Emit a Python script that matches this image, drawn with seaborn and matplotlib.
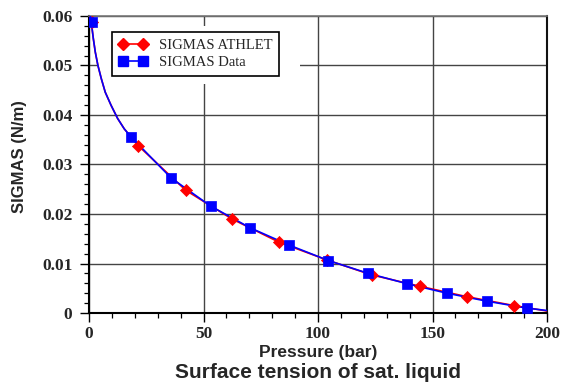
import matplotlib
matplotlib.use("Agg")
import matplotlib.pyplot as plt
import seaborn as sns
import pandas as pd
from matplotlib.lines import Line2D
from matplotlib.patches import Rectangle
from matplotlib.ticker import MultipleLocator

# ---- data ----
data_p = [1.2, 18.3, 35.8, 53.1, 70.4, 87.5, 104.5, 122.0, 139.0, 156.3, 173.6, 191.1]
data_s = [0.0587, 0.0356, 0.0273, 0.0216, 0.0172, 0.0137, 0.0106, 0.0080, 0.0059, 0.0040, 0.0024, 0.0010]

athlet_p = [1.4, 21.5, 42.2, 62.4, 83.0, 104.0, 123.4, 144.5, 165.0, 185.6]
athlet_s = [0.0588, 0.0338, 0.0248, 0.0190, 0.0143, 0.0107, 0.0077, 0.0054, 0.0033, 0.0015]

# steep start of the continuous curves
start_p = [0.6, 1.2, 1.9, 2.75, 3.9, 5.4, 7.1, 9.6, 12.5, 15.4]
start_s = [0.0600, 0.0580, 0.0554, 0.0527, 0.0500, 0.0473, 0.0446, 0.0420, 0.0393, 0.0372]
end_p = [200.0]
end_s_athlet = [0.0004]
end_s_data = [0.0005]

xticks = [0, 50, 100, 150, 200]
yticks = [0, 0.01, 0.02, 0.03, 0.04, 0.05, 0.06]
ytick_labels = ["0", "0.01", "0.02", "0.03", "0.04", "0.05", "0.06"]

# ---- frames ----
line_athlet = pd.DataFrame({"p": start_p + athlet_p[1:] + end_p,
                            "s": start_s + athlet_s[1:] + end_s_athlet})
line_data = pd.DataFrame({"p": start_p + data_p[1:] + end_p,
                          "s": start_s + data_s[1:] + end_s_data})
pts_athlet = pd.DataFrame({"p": athlet_p, "s": athlet_s})
pts_data = pd.DataFrame({"p": data_p, "s": data_s})

sns.set_style("white")
plt.rcParams["font.family"] = ["Liberation Sans", "DejaVu Sans"]

fig = plt.figure(figsize=(5.64, 3.87), dpi=100)
ax = fig.add_axes([89/564, 1-313/387, (547-89)/564, (313-16)/387])

RED = "#ff0000"
BLUE = "#0000ff"

sns.lineplot(data=line_athlet, x="p", y="s", ax=ax, color=RED, lw=1.2,
             sort=False, estimator=None, zorder=3, legend=False)
sns.lineplot(data=line_data, x="p", y="s", ax=ax, color=BLUE, lw=1.2,
             sort=False, estimator=None, zorder=4, legend=False)
sns.scatterplot(data=pts_athlet, x="p", y="s", ax=ax, color=RED, marker="D",
                s=38, edgecolor=RED, linewidth=0.5, zorder=5, legend=False)
sns.scatterplot(data=pts_data, x="p", y="s", ax=ax, color=BLUE, marker="s",
                s=62, edgecolor=BLUE, linewidth=0.5, zorder=6, legend=False)

ax.set_xlim(0, 200)
ax.set_ylim(0, 0.06)
ax.set_xticks(xticks)
ax.set_yticks(yticks)
ax.set_yticklabels(ytick_labels)
ax.xaxis.set_minor_locator(MultipleLocator(10))
ax.yaxis.set_minor_locator(MultipleLocator(0.002))

ax.grid(True, which="major", color="#444444", lw=1.0, zorder=0.5)
ax.set_axisbelow(True)

for side in ["left", "bottom"]:
    ax.spines[side].set_color("black")
    ax.spines[side].set_linewidth(1.5)
ax.spines["top"].set_color("#777777")
ax.spines["top"].set_linewidth(1.2)
ax.spines["right"].set_color("#111111")
ax.spines["right"].set_linewidth(1.5)

ax.tick_params(axis="both", which="major", direction="out", length=6.5,
               width=1.0, color="black", bottom=True, left=True)
ax.tick_params(axis="both", which="minor", direction="out", length=3.5,
               width=0.9, color="black", bottom=True, left=True)
ax.tick_params(axis="x", which="major", pad=2.5)
ax.tick_params(axis="y", which="major", pad=5.5)
for lab in ax.get_xticklabels() + ax.get_yticklabels():
    lab.set_fontfamily(["Liberation Serif", "DejaVu Serif"])
    lab.set_fontweight("bold")
    lab.set_fontsize(12.5)

ax.set_xlabel("")
ax.set_ylabel("SIGMAS (N/m)", fontsize=12, fontweight="bold")
ax.yaxis.set_label_coords((27-89)/458, (313-157)/297)

fig.text(318/564, 1-352/387, "Pressure (bar)", ha="center", va="center",
         fontsize=12.5, fontweight="bold")
fig.text(318/564, 1-372/387, "Surface tension of sat. liquid", ha="center",
         va="center", fontsize=15, fontweight="bold")

# white margin around legend (grid lines stop short of it)
ax.add_patch(Rectangle(((97-89)/458, (313-84)/297), (300-97)/458, (84-26)/297,
                       transform=ax.transAxes, facecolor="white",
                       edgecolor="none", zorder=1))

handles = [
    Line2D([0], [0], color=RED, lw=1.2, marker="D", markersize=6,
           markerfacecolor=RED, markeredgecolor=RED),
    Line2D([0], [0], color=BLUE, lw=1.2, marker="s", markersize=7,
           markerfacecolor=BLUE, markeredgecolor=BLUE),
]
leg = ax.legend(handles, ["SIGMAS ATHLET", "SIGMAS Data"],
                loc="upper left",
                bbox_to_anchor=((112-89)/458, (313-32)/297),
                numpoints=2, handlelength=2.0, handletextpad=0.8,
                borderpad=0.45, labelspacing=0.3, fancybox=False,
                frameon=True, framealpha=1.0, borderaxespad=0,
                prop={"family": ["Liberation Serif", "DejaVu Serif"], "size": 10.5})
leg.get_frame().set_edgecolor("black")
leg.get_frame().set_linewidth(1.2)
leg.set_zorder(10)

fig.savefig("out.png", dpi=100)
